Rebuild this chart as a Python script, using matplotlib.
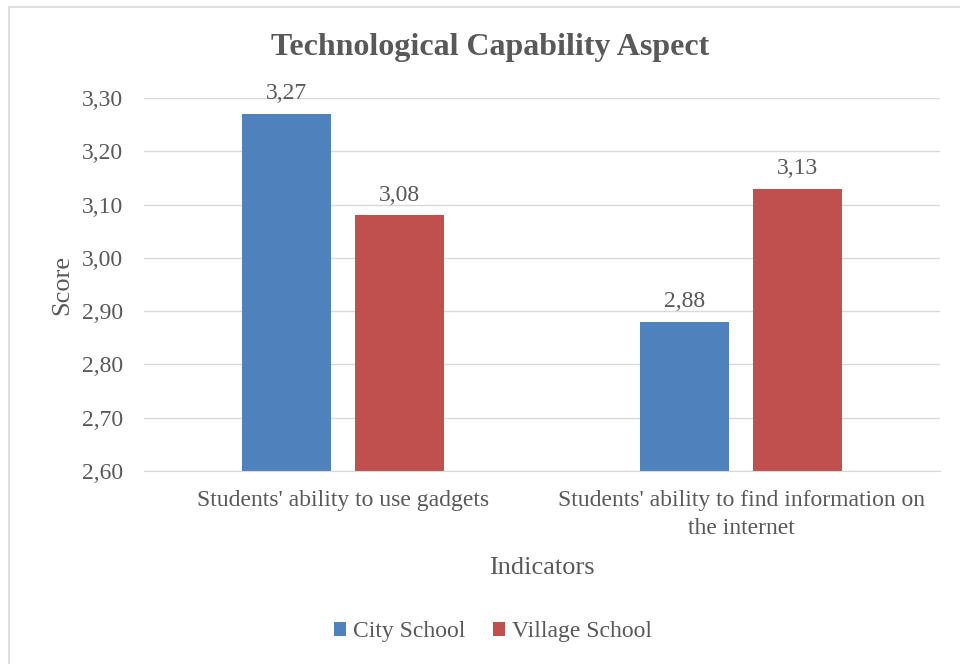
import matplotlib.pyplot as plt
import numpy as np
from matplotlib.patches import Rectangle

plt.rcParams['font.family'] = ['Liberation Serif', 'DejaVu Serif']

# data
categories = ["Students' ability to use gadgets",
              "Students' ability to find information on\nthe internet"]
city = [3.27, 2.88]
village = [3.08, 3.13]
series_names = ['City School', 'Village School']
colors = ['#4f81bd', '#c0504d']
txt = '#595959'

fig = plt.figure(figsize=(9.6, 6.64), dpi=100)
ax = fig.add_axes([144 / 960, 1 - 471 / 664, 796 / 960, 373 / 664])

x = np.arange(len(categories))
w = 0.224
b1 = ax.bar(x - 0.142, np.array(city) - 2.6, w, bottom=2.6, color=colors[0], label=series_names[0])
b2 = ax.bar(x + 0.142, np.array(village) - 2.6, w, bottom=2.6, color=colors[1], label=series_names[1])

for bars, vals in ((b1, city), (b2, village)):
    for r, v in zip(bars, vals):
        ax.annotate(f'{v:.2f}'.replace('.', ','), (r.get_x() + r.get_width() / 2, v),
                    xytext=(0, 7), textcoords='offset points', ha='center', va='bottom',
                    fontsize=17, color=txt)

ax.set_xlim(-0.5, 1.5)
ax.set_ylim(2.6, 3.3)
yt = np.arange(2.6, 3.31, 0.1)
ax.set_yticks(yt)
ax.set_yticklabels([f'{t:.2f}'.replace('.', ',') for t in yt], fontsize=17, color=txt)
ax.set_xticks(x)
ax.set_xticklabels(categories, fontsize=17, color=txt, linespacing=1.4)
ax.tick_params(length=0)
ax.tick_params(axis='x', pad=14)
ax.tick_params(axis='y', pad=15)
ax.grid(axis='y', color='#d9d9d9', linewidth=1)
ax.set_axisbelow(True)
for s in ['top', 'right', 'left']:
    ax.spines[s].set_visible(False)
ax.spines['bottom'].set_color('#d9d9d9')

ax.set_ylabel('Score', fontsize=19, color=txt, labelpad=6)
ax.set_xlabel('Indicators', fontsize=19, color=txt, labelpad=13)
fig.text(490 / 960, 1 - 47 / 664, 'Technological Capability Aspect', ha='center', va='center',
         fontsize=23, fontweight='bold', color=txt)

ax.legend(loc='center', bbox_to_anchor=(493 / 960, 1 - 632 / 664), bbox_transform=fig.transFigure,
          ncol=2, frameon=False, fontsize=17, handlelength=0.5, handleheight=0.5,
          handletextpad=0.3, columnspacing=1.2, labelcolor=txt)

fig.patches.append(Rectangle((9 / 960, -0.1), 1.2, 1 - 7 / 664 + 0.1, transform=fig.transFigure,
                             fill=False, edgecolor='#d9d9d9', linewidth=1.2))

fig.savefig('out.png', dpi=100)
